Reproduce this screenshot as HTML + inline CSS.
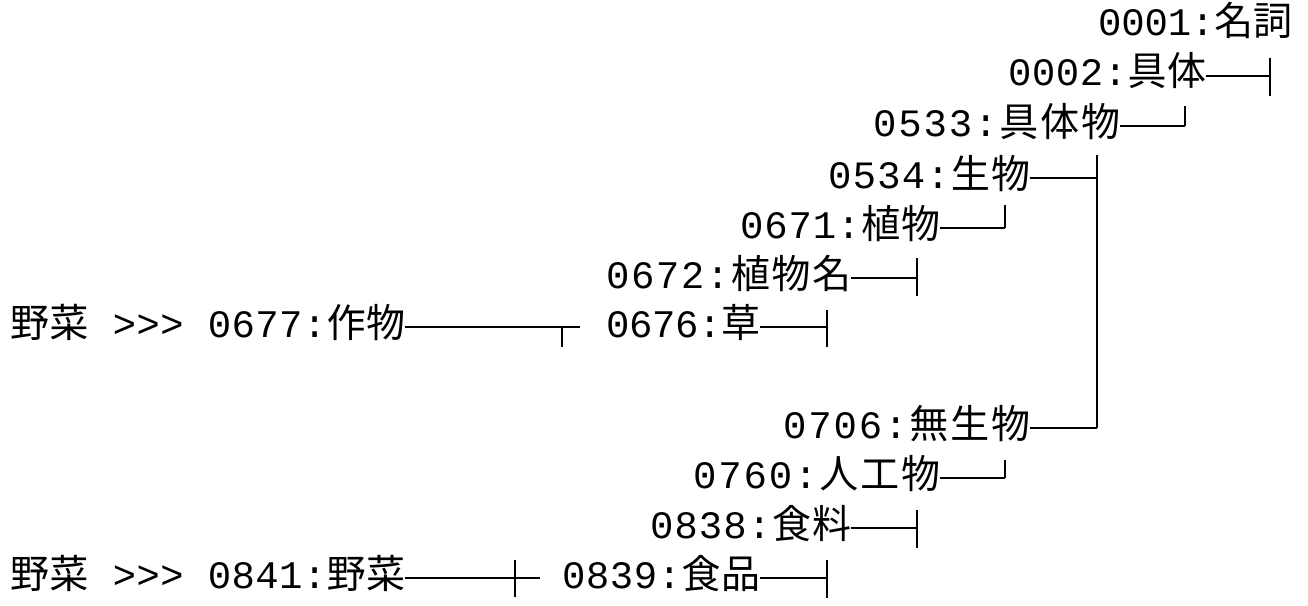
<!DOCTYPE html>
<html><head><meta charset="utf-8"><style>
html,body{margin:0;padding:0;background:#fff;width:1308px;height:606px;overflow:hidden}
text{font-family:"Liberation Mono","Noto Sans CJK JP",monospace;font-size:39px;fill:#000}
</style></head><body>
<svg width="1308" height="606" viewBox="0 0 1308 606" xmlns="http://www.w3.org/2000/svg">
<g dominant-baseline="central" lengthAdjust="spacing">
<text x="1098" y="25" textLength="194">0001:名詞</text>
<text x="1008" y="75" textLength="198">0002:具体</text>
<text x="873" y="126" textLength="247">0533:具体物</text>
<text x="828" y="178" textLength="202">0534:生物</text>
<text x="740" y="228" textLength="200">0671:植物</text>
<text x="606" y="278" textLength="245">0672:植物名</text>
<text x="606" y="327" textLength="154">0676:草</text>
<text x="783" y="428" textLength="247">0706:無生物</text>
<text x="693" y="478" textLength="247">0760:人工物</text>
<text x="650" y="528" textLength="201">0838:食料</text>
<text x="562" y="578" textLength="198">0839:食品</text>
<text x="10" y="327" textLength="395">野菜 &gt;&gt;&gt; 0677:作物</text>
<text x="10" y="578" textLength="395">野菜 &gt;&gt;&gt; 0841:野菜</text>
</g>
<g stroke="#000" stroke-width="2" fill="none">
<path d="M1206 76H1270M1270 58V96"/>
<path d="M1120 126H1185M1185 106V126"/>
<path d="M1030 178H1097M1097 155V428M1030 428H1097"/>
<path d="M940 228H1005M1005 205V228"/>
<path d="M851 278H917M917 258V296"/>
<path d="M405 327H580M562 327V347"/>
<path d="M760 327H827M827 310V347"/>
<path d="M940 478H1005M1005 460V478"/>
<path d="M851 528H917M917 510V548"/>
<path d="M405 578H540M515 560V597"/>
<path d="M760 578H827M827 560V598"/>
</g>
</svg>
</body></html>
